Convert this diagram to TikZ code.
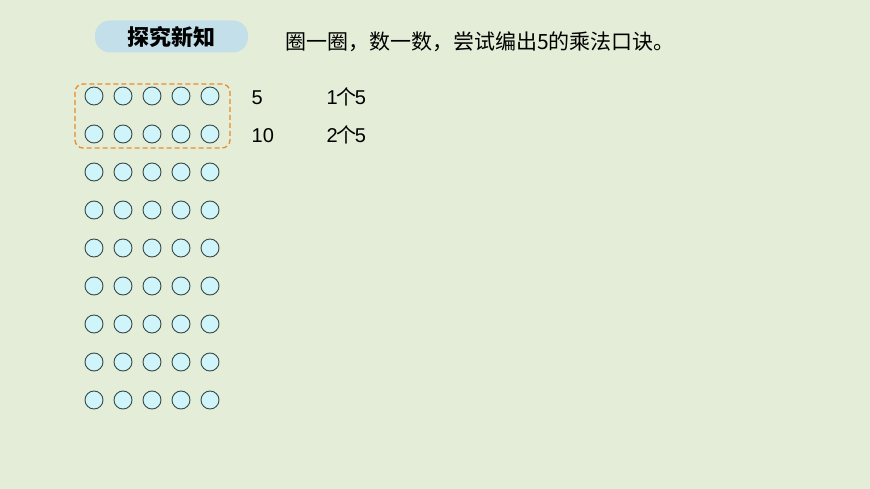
\documentclass[tikz,border=0pt]{standalone}
\usepackage{fontspec}
\setmainfont{Noto Sans CJK SC}
\newfontfamily\cjkbold{Noto Sans CJK SC Black}
\newfontfamily\latin{Liberation Sans}
\definecolor{bgc}{HTML}{E3EDD7}
\definecolor{pill}{HTML}{C3DFEA}
\definecolor{dotfill}{HTML}{CFF5FA}
\definecolor{dotline}{HTML}{3A4A48}
\definecolor{dashc}{HTML}{E98A2E}
\tikzset{
  dot/.style={circle,draw=dotline,fill=dotfill,line width=0.9pt,minimum size=18pt,inner sep=0pt},
  numtxt/.style={anchor=base west,font=\latin\fontsize{20}{20}\selectfont,inner sep=0pt},
}
\begin{document}
\begin{tikzpicture}[x=1pt,y=-1pt]
\fill[bgc] (0,0) rectangle (870,489);
\useasboundingbox (0,0) rectangle (870,489);
\node[fill=pill,rounded corners=15pt,minimum width=153pt,minimum height=32pt,inner sep=0pt,font=\cjkbold\fontsize{22}{22}\selectfont] (title) at (171.5,36.5) {探究新知};
\node[anchor=west,inner sep=0pt,font=\fontsize{21}{21}\selectfont] (task) at (285,42) {圈一圈，数一数，尝试编出5的乘法口诀。};
\foreach \r in {1,...,9}{
  \foreach \c in {1,...,5}{
    \node[dot] (d\r\c) at ({94+29*(\c-1)},{96+38*(\r-1)}) {};
  }
}
\draw[dashc,line width=1.3pt,dash pattern=on 5pt off 3pt,rounded corners=8pt] (75,84) rectangle (230,148);
\node[numtxt] (n1) at (251.5,104.5) {5};
\node[numtxt] (n2) at (251.5,143) {10};
\node[numtxt] (m1) at (326.5,104.5) {1\hspace{-1.5pt}{\rmfamily\fontsize{20}{20}\selectfont 个}\hspace{-1.5pt}5};
\node[numtxt] (m2) at (326.5,143) {2\hspace{-1.5pt}{\rmfamily\fontsize{20}{20}\selectfont 个}\hspace{-1.5pt}5};
\end{tikzpicture}
\end{document}
